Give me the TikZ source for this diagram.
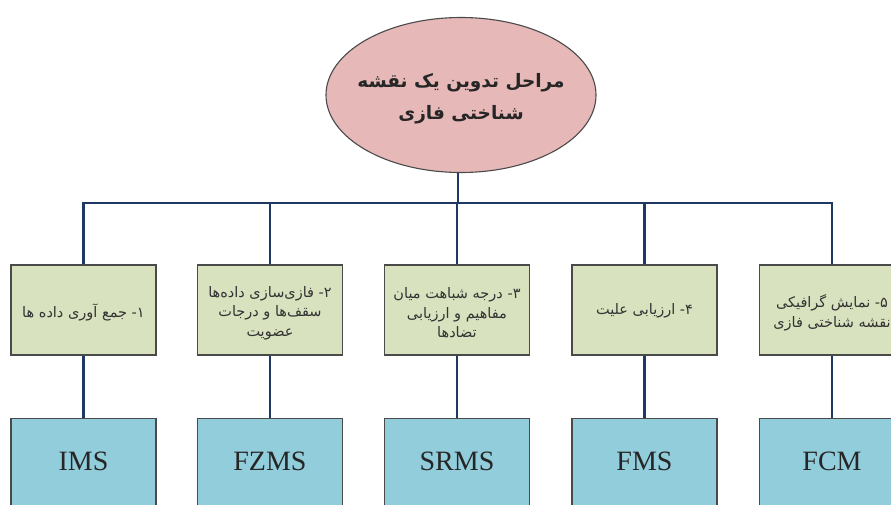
\documentclass[tikz,border=0pt]{standalone}
\usepackage{fontspec}
\setmainfont{Liberation Serif}
\newfontfamily\arabicfont[Script=Arabic]{DejaVu Sans}
\TeXXeTstate=1
\usetikzlibrary{shapes.geometric}
\definecolor{linkc}{HTML}{1F3864}
\definecolor{greenf}{HTML}{D8E2BF}
\definecolor{bluef}{HTML}{92CDDC}
\definecolor{pinkf}{HTML}{E6B8B7}
\definecolor{edgec}{HTML}{4A4A4A}
\tikzset{
  stagebox/.style={draw=edgec, line width=1.1pt, fill=greenf, minimum width=145pt, minimum height=90pt, inner sep=0pt},
  stagetext/.style={inner sep=0pt, align=center, text=black!80,
    font=\arabicfont\fontsize{14.5}{19.5}\selectfont},
  methodbox/.style={draw=edgec, line width=1.1pt, fill=bluef, minimum width=145pt, minimum height=104pt, inner sep=0pt, text=black!85,
    text depth=18pt, font=\fontsize{28}{30}\selectfont},
  titleell/.style={ellipse, draw=edgec, line width=1.1pt, fill=pinkf, minimum width=270pt, minimum height=155pt, inner sep=0pt},
  titletext/.style={align=center, text=black!85, inner sep=0pt,
    font=\arabicfont\bfseries\fontsize{18.5}{32}\selectfont},
  link/.style={draw=linkc, line width=2.6pt}
}
\begin{document}
\begin{tikzpicture}[x=1pt,y=-1pt]
\useasboundingbox (0,0) rectangle (891,504);
\clip (0,0) rectangle (891,504);
\fill[white] (0,0) rectangle (891,504);
\node[titleell] (top) at (461,95) {};
\node[titletext] (toptext) at (461,99) {\beginR مراحل تدوین یک نقشه\endR\\\beginR شناختی فازی\endR};
\coordinate (bus) at (458,203);
\foreach \i/\x in {1/83.5,2/270,3/457,4/644.5,5/832} {
  \node[stagebox] (s\i) at (\x,310) {};
  \node[methodbox,anchor=north] (m\i) at (\x,418) {};
}
\node[stagetext] (t1) at (83.5,312) {\beginR ۱- جمع آوری داده ها\endR};
\node[stagetext] (t2) at (270,313) {\beginR ۲- فازی‌سازی داده‌ها\endR\\\beginR سقف‌ها و درجات\endR\\\beginR عضویت\endR};
\node[stagetext] (t3) at (457,313) {\beginR ۳- درجه شباهت میان\endR\\\beginR مفاهیم و ارزیابی\endR\\\beginR تضادها\endR};
\node[stagetext] (t4) at (644.5,311) {\beginR ۴- ارزیابی علیت\endR};
\node[stagetext] (t5) at (832,313) {\beginR ۵- نمایش گرافیکی\endR\\\beginR نقشه شناختی فازی\endR};
\node[methodbox,draw=none,fill=none,anchor=north] (l1) at (m1.north) {IMS};
\node[methodbox,draw=none,fill=none,anchor=north] (l2) at (m2.north) {FZMS};
\node[methodbox,draw=none,fill=none,anchor=north] (l3) at (m3.north) {SRMS};
\node[methodbox,draw=none,fill=none,anchor=north] (l4) at (m4.north) {FMS};
\node[methodbox,draw=none,fill=none,anchor=north] (l5) at (m5.north) {FCM};
\coordinate (b1) at (s1.north |- bus);
\coordinate (b5) at (s5.north |- bus);
\draw[link] (bus |- top.south) -- (bus);
\draw[link] (s1.north) -- (b1) -- (b5) -- (s5.north);
\foreach \i in {2,3,4} {
  \draw[link] (s\i.north) -- (s\i.north |- bus);
}
\foreach \i in {1,...,5} {
  \draw[link] (s\i.south) -- (m\i.north);
}
\end{tikzpicture}
\end{document}
